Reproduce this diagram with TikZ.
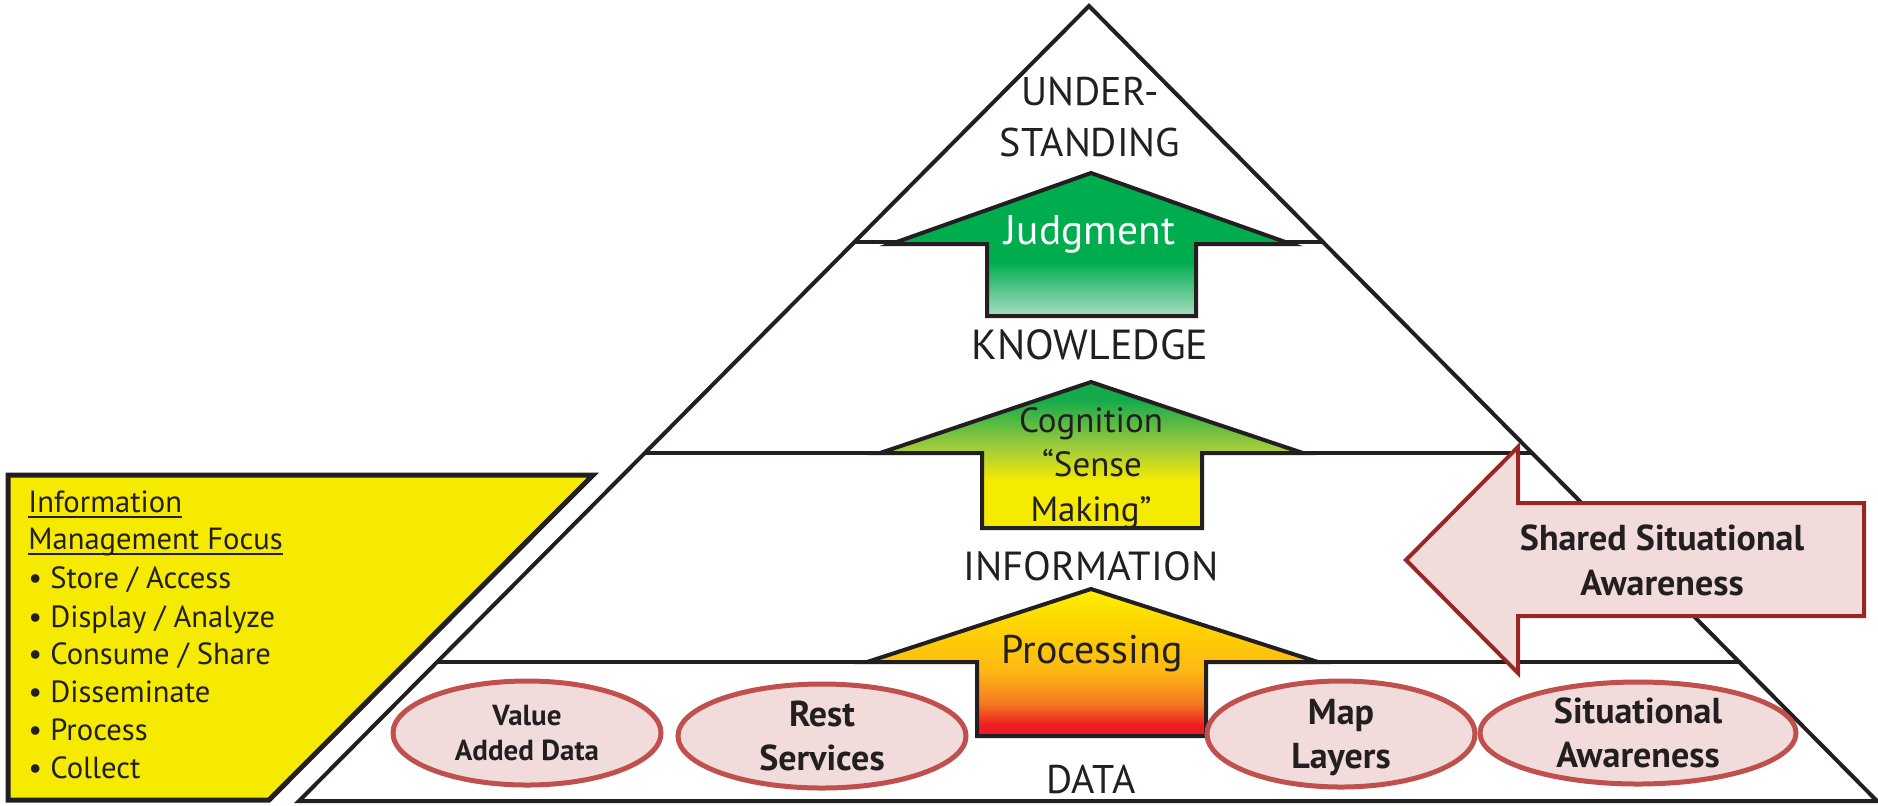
\documentclass[tikz,border=0pt]{standalone}
\usepackage{fontspec}
\setmainfont{PT Sans}
\usetikzlibrary{shapes.geometric}
\definecolor{ink}{RGB}{35,31,32}
\definecolor{boxyellow}{RGB}{245,234,0}
\definecolor{pinkfill}{RGB}{242,220,219}
\definecolor{ellborder}{RGB}{192,80,77}
\definecolor{sharedborder}{RGB}{152,38,36}
\definecolor{jgreen}{RGB}{0,173,78}
\definecolor{jlight}{RGB}{170,220,195}
\definecolor{cgreen}{RGB}{20,170,75}
\definecolor{cmid}{RGB}{165,205,57}
\definecolor{cyellow}{RGB}{245,235,0}
\definecolor{pred}{RGB}{237,28,36}
\definecolor{porange}{RGB}{244,121,32}
\definecolor{pamber}{RGB}{253,185,19}
\definecolor{pgold}{RGB}{254,215,0}
\definecolor{pyellow}{RGB}{255,242,0}
\pgfdeclareverticalshading{judgshade}{100bp}{color(0bp)=(jlight); color(25bp)=(jlight); color(44bp)=(jgreen); color(100bp)=(jgreen)}
\pgfdeclareverticalshading{cogshade}{100bp}{color(0bp)=(cyellow); color(41bp)=(cyellow); color(52bp)=(cmid); color(69bp)=(cgreen); color(100bp)=(cgreen)}
\pgfdeclareverticalshading{procshade}{100bp}{color(0bp)=(pred); color(28.7bp)=(pred); color(36bp)=(porange); color(47.5bp)=(pamber); color(64.5bp)=(pgold); color(75bp)=(pyellow); color(100bp)=(pyellow)}
\begin{document}
\begin{tikzpicture}[x=0.5pt,y=-0.5pt,line join=miter,
  pyr/.style={draw=ink,line width=2pt},
  upbox/.style={draw=ink,line width=2pt},
  lvl/.style={text=ink,inner sep=0pt,anchor=base,font=\fontsize{21pt}{25pt}\selectfont},
  arrtxt/.style={inner sep=0pt,anchor=base,font=\fontsize{20pt}{24pt}\selectfont},
  focus/.style={text=ink,inner sep=0pt,anchor=base west,font=\fontsize{15.3pt}{19pt}\selectfont},
  blob/.style={ellipse,draw=ellborder,fill=pinkfill,line width=2.5pt,inner sep=0pt},
  blobtxt/.style={text=ink,align=center,inner sep=0pt,font=\bfseries\fontsize{18pt}{22pt}\selectfont},
  sharedarrow/.style={draw=sharedborder,fill=pinkfill,line width=2pt}]
\useasboundingbox (0,0) rectangle (1878,805);
% pyramid
\draw[pyr] (1089,6) -- (1877,801) -- (299,801) -- cycle;
\coordinate (l1a) at (854,242); \coordinate (l1b) at (1323,242);
\coordinate (l2a) at (645,453); \coordinate (l2b) at (1532,453);
\coordinate (l3a) at (437,662); \coordinate (l3b) at (1741,662);
\draw[pyr] (l1a) -- (l1b);
\draw[pyr] (l2a) -- (l2b);
\draw[pyr] (l3a) -- (l3b);
% yellow focus box
\draw[draw=ink,fill=boxyellow,line width=2.5pt] (8,475) -- (593,475) -- (269,800) -- (8,800) -- cycle;
\node[focus] (f1) at (28,512) {Information};
\node[focus] (f2) at (28,549) {Management Focus};
\draw[ink,line width=1pt] ([yshift=-2.5pt]f1.base west) -- ([yshift=-2.5pt]f1.base east);
\draw[ink,line width=1pt] ([yshift=-2.5pt]f2.base west) -- ([yshift=-2.5pt]f2.base east);
\node[focus] (f3) at (28,588) {• Store / Access};
\node[focus] (f4) at (28,627) {• Display / Analyze};
\node[focus] (f5) at (28,664) {• Consume / Share};
\node[focus] (f6) at (28,702) {• Disseminate};
\node[focus] (f7) at (28,740) {• Process};
\node[focus] (f8) at (28,778) {• Collect};
% up arrows
\shadedraw[upbox,shading=judgshade] (1091,173) -- (1291,244) -- (1196,244) -- (1196,316) -- (987,316) -- (987,244) -- (891,244) -- cycle;
\shadedraw[upbox,shading=cogshade] (1091,382) -- (1303,453) -- (1202,453) -- (1202,528) -- (982,528) -- (982,453) -- (880,453) -- cycle;
\shadedraw[upbox,shading=procshade] (1091,589) -- (1318,662) -- (1206,662) -- (1206,736) -- (977,736) -- (977,662) -- (867,662) -- cycle;
\node[arrtxt,text=white,font=\fontsize{20.7pt}{24pt}\selectfont] (judg) at (1090,244) {Judgment};
\node[arrtxt,text=ink,font=\fontsize{17.5pt}{22pt}\selectfont] (cog1) at (1091,432) {Cognition};
\node[arrtxt,text=ink,font=\fontsize{17.5pt}{22pt}\selectfont] (cog2) at (1092,476) {“Sense};
\node[arrtxt,text=ink,font=\fontsize{17.5pt}{22pt}\selectfont] (cog3) at (1091,521) {Making”};
\node[arrtxt,text=ink,font=\fontsize{20pt}{24pt}\selectfont] (proc) at (1092,663) {Processing};
% level labels
\node[lvl,font=\fontsize{20pt}{24pt}\selectfont] (und1) at (1090,105) {UNDER-};
\node[lvl,font=\fontsize{20pt}{24pt}\selectfont] (und2) at (1090,156) {STANDING};
\node[lvl] (know) at (1090,359) {KNOWLEDGE};
\node[lvl,font=\fontsize{20.3pt}{24pt}\selectfont] (info) at (1091,580) {INFORMATION};
\node[lvl,font=\fontsize{20pt}{24pt}\selectfont] (data) at (1091,793) {DATA};
% data ellipses
\node[blob,minimum width=134pt,minimum height=52pt] (va) at (527,733) {};
\node[blob,minimum width=144pt,minimum height=52pt] (rs) at (822,736) {};
\node[blob,minimum width=134pt,minimum height=53pt] (ml) at (1341,734) {};
\node[blob,minimum width=158pt,minimum height=51pt] (sa) at (1638,733) {};
\node[blobtxt,font=\bfseries\fontsize{14.5pt}{17.5pt}\selectfont] (vat) at (va) {Value\\Added Data};
\node[blobtxt] (rst) at (rs) {Rest\\Services};
\node[blobtxt] (mlt) at ([yshift=-2pt]ml.center) {Map\\Layers};
\node[blobtxt] (sat) at (sa) {Situational\\Awareness};
% shared situational awareness arrow
\draw[sharedarrow] (1406,560) -- (1518,447) -- (1518,503) -- (1864,503) -- (1864,616) -- (1518,616) -- (1518,673) -- cycle;
\node[blobtxt,font=\bfseries\fontsize{18pt}{22.5pt}\selectfont] (ssa) at (1662,560) {Shared Situational\\Awareness};
\end{tikzpicture}
\end{document}
